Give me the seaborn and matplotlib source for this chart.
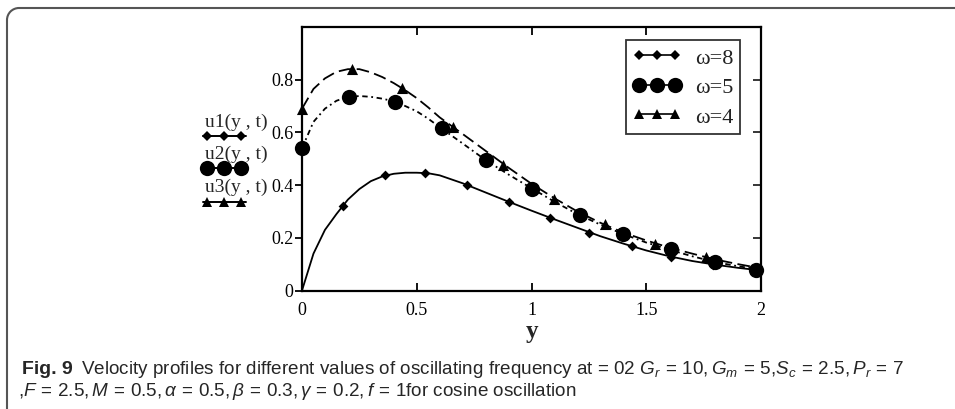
import numpy as np
import pandas as pd
import matplotlib
matplotlib.use("Agg")
import matplotlib.pyplot as plt
from matplotlib.lines import Line2D
from matplotlib.patches import Arc
import seaborn as sns

# ---------------- data ----------------
x_line = [0.0, 0.05, 0.1, 0.15, 0.2, 0.25, 0.3, 0.35, 0.4, 0.45, 0.5, 0.55, 0.6,
          0.7, 0.8, 0.9, 1.0, 1.1, 1.2, 1.3, 1.4, 1.5, 1.6, 1.7, 1.8, 1.9, 2.0]
u1_line = [0.0, 0.14, 0.23, 0.29, 0.345, 0.385, 0.415, 0.433, 0.443, 0.447, 0.447, 0.445, 0.437,
           0.407, 0.372, 0.337, 0.303, 0.270, 0.238, 0.206, 0.178, 0.152, 0.130, 0.112, 0.098, 0.086, 0.076]
u2_line = [0.54, 0.64, 0.69, 0.72, 0.735, 0.738, 0.735, 0.728, 0.718, 0.700, 0.680, 0.652, 0.620,
           0.558, 0.495, 0.440, 0.388, 0.337, 0.290, 0.250, 0.214, 0.182, 0.155, 0.130, 0.108, 0.092, 0.079]
u3_line = [0.69, 0.765, 0.805, 0.830, 0.840, 0.840, 0.828, 0.810, 0.787, 0.760, 0.730, 0.695, 0.657,
           0.594, 0.530, 0.466, 0.405, 0.350, 0.300, 0.257, 0.220, 0.190, 0.163, 0.140, 0.118, 0.100, 0.084]

u1_mx = [0.18, 0.36, 0.536, 0.72, 0.90, 1.08, 1.25, 1.44, 1.61, 1.79, 1.98]
u1_my = [0.32, 0.44, 0.445, 0.40, 0.337, 0.275, 0.22, 0.167, 0.128, 0.097, 0.078]
u2_mx = [0.0, 0.205, 0.405, 0.61, 0.80, 1.0, 1.21, 1.40, 1.61, 1.80, 1.98]
u2_my = [0.54, 0.735, 0.715, 0.616, 0.496, 0.387, 0.287, 0.213, 0.159, 0.108, 0.078]
u3_mx = [0.0, 0.22, 0.435, 0.66, 0.875, 1.10, 1.32, 1.54, 1.76, 1.98]
u3_my = [0.69, 0.84, 0.77, 0.62, 0.477, 0.347, 0.252, 0.178, 0.128, 0.080]

series_labels = ["\u03c9=8", "\u03c9=5", "\u03c9=4"]
side_labels = ["u1(y , t)", "u2(y , t)", "u3(y , t)"]
x_ticks = [0, 0.5, 1, 1.5, 2]
x_ticklabels = ["0", "0.5", "1", "1.5", "2"]
y_ticks = [0, 0.2, 0.4, 0.6, 0.8]
y_ticklabels = ["0", "0.2", "0.4", "0.6", "0.8"]

# ---------------- style ----------------
sns.set_theme(style="white")
plt.rcParams["font.family"] = ["Liberation Serif", "DejaVu Serif"]
plt.rcParams["mathtext.fontset"] = "custom"
plt.rcParams["mathtext.rm"] = "Liberation Sans"
plt.rcParams["mathtext.it"] = "Liberation Sans:italic"
plt.rcParams["mathtext.bf"] = "Liberation Sans:bold"

W, H = 955, 409
fig = plt.figure(figsize=(W / 100, H / 100), dpi=100)
ax = fig.add_axes([302 / W, 1 - 290.5 / H, (761 - 302) / W, (290.5 - 27) / H])

markers = ["D", "o", "^"]
msizes = [5, 11, 8]

lines_df = pd.DataFrame({"y": x_line * 3,
                         "u": u1_line + u2_line + u3_line,
                         "s": [series_labels[0]] * len(x_line) + [series_labels[1]] * len(x_line)
                              + [series_labels[2]] * len(x_line)})
for lab in series_labels:
    d = lines_df[lines_df["s"] == lab]
    sns.lineplot(data=d, x="y", y="u", ax=ax, color="black", lw=1.3, legend=False, sort=False)
for i, ln in enumerate(ax.get_lines()):
    if i == 1:
        ln.set_dashes([3, 2, 1, 2])
    elif i == 2:
        ln.set_dashes([7, 3])

for mx, my, m, ms in zip([u1_mx, u2_mx, u3_mx], [u1_my, u2_my, u3_my], markers, msizes):
    sns.scatterplot(x=mx, y=my, ax=ax, marker=m, s=ms ** 2, color="black",
                    edgecolor="black", linewidth=0, legend=False, zorder=3, clip_on=False)

ax.set_xlim(0, 2)
ax.set_ylim(0, 1.0)
for sp in ax.spines.values():
    sp.set_visible(True)
    sp.set_color("black")
    sp.set_linewidth(1.6)

ax.set_xticks(x_ticks)
ax.set_xticklabels(x_ticklabels, fontsize=13)
ax.set_yticks(y_ticks)
ax.set_yticklabels(y_ticklabels, fontsize=13)
ax.tick_params(axis="x", direction="in", length=6, width=1.3, top=True, bottom=True, pad=8, colors="black")
ax.tick_params(axis="y", direction="out", length=5, width=1.3, left=True, pad=1, colors="black")
axr = ax.secondary_yaxis("right")
axr.set_yticks(y_ticks[1:])
axr.tick_params(direction="in", length=6, width=1.3, labelright=False)
axr.spines["right"].set_visible(False)

ax.set_xlabel("y", fontsize=18, fontweight="bold", labelpad=1)
ax.set_ylabel("")

# legend inside the axes
handles = [Line2D([], [], color="black", lw=1.2, marker=m, markersize=ms, markeredgewidth=0)
           for m, ms in zip(markers, [5, 11, 7])]
leg = ax.legend(handles, series_labels, loc="upper left",
                bbox_to_anchor=((626 - 302) / 459, (290.5 - 40) / 263.5),
                numpoints=3, handlelength=2.2, handletextpad=0.6, fancybox=False, frameon=True,
                edgecolor="black", borderaxespad=0, borderpad=0.3, labelspacing=0.3,
                handleheight=1.0, prop={"family": ["Liberation Serif"], "size": 16})
leg.get_frame().set_linewidth(1.3)
leg.get_frame().set_boxstyle("square", pad=0)
for t in leg.get_texts():
    t.set_color("#222222")

# side labels (Mathcad-style trace labels)
label_y = [122, 154, 187]
mark_y = [136, 168, 202]
for lab, ty, my, m, ms in zip(side_labels, label_y, mark_y, markers, [5, 11, 7]):
    fig.text(205 / W, 1 - ty / H, lab, fontsize=14, va="center", ha="left")
    fig.add_artist(Line2D([203 / W, 246 / W], [1 - my / H] * 2, color="black", lw=1.4,
                          transform=fig.transFigure))
    fig.add_artist(Line2D([207 / W, 224 / W, 241 / W], [1 - my / H] * 3, color="black", lw=0,
                          marker=m, markersize=ms, markeredgewidth=0, transform=fig.transFigure))

# outer frame with rounded top-left corner (pixel coordinates)
r = 12
fc = "#555555"
fig.add_artist(Line2D([(7 + r) / W, 1.0], [1 - 8 / H] * 2, color=fc, lw=1.5, transform=fig.transFigure))
fig.add_artist(Line2D([7 / W] * 2, [1 - (8 + r) / H, 0.0], color=fc, lw=1.5, transform=fig.transFigure))
fig.add_artist(Arc(((7 + r) / W, 1 - (8 + r) / H), 2 * r / W, 2 * r / H, theta1=90, theta2=180,
                   color=fc, lw=1.5, transform=fig.transFigure))

# caption
cap_font = ["Liberation Sans", "DejaVu Sans"]
t1 = fig.text(22 / W, 1 - 369 / H, "Fig. 9", fontsize=14, fontweight="bold", family=cap_font, va="center")
fig.canvas.draw()
bb = t1.get_window_extent()
fig.text((bb.x1 + 8) / W, 1 - 369 / H,
         r"Velocity profiles for different values of oscillating frequency at = 02 $G_r\,=\,10, G_m\,=\,5$,$S_c\,=\,2.5, P_r\,=\,7$",
         fontsize=13.6, family=cap_font, va="center")
fig.text(18 / W, 1 - 392 / H,
         r",$F\,=\,2.5, M\,=\,0.5, \alpha\,=\,0.5, \beta\,=\,0.3, \gamma\,=\,0.2, f\,=\,1$for cosine oscillation",
         fontsize=13.6, family=cap_font, va="center")

fig.savefig("out.png", dpi=100)
